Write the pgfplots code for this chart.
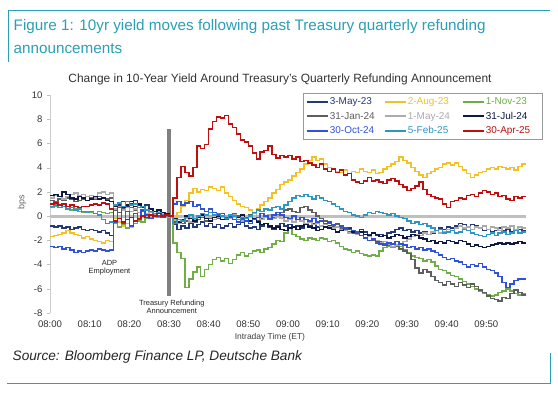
\documentclass[border=0pt]{standalone}
\usepackage{fontspec}
\setmainfont{Liberation Sans}
\usepackage{pgfplots}
\pgfplotsset{compat=1.18}
\definecolor{tealf}{HTML}{2B9FB6}
\definecolor{cA}{HTML}{223A78}
\definecolor{cB}{HTML}{F2C124}
\definecolor{cC}{HTML}{70AD47}
\definecolor{cD}{HTML}{5E5E5E}
\definecolor{cE}{HTML}{ABABAB}
\definecolor{cF}{HTML}{0E1840}
\definecolor{cG}{HTML}{3052DA}
\definecolor{cH}{HTML}{2E96C2}
\definecolor{cI}{HTML}{BE1010}
\begin{document}
\begin{tikzpicture}[x=1bp,y=1bp]
\path[use as bounding box] (0,0) rectangle (558,393);
\fill[white] (0,0) rectangle (558,393);
\draw[tealf, line width=0.9bp] (8,331) -- (8,383) -- (550,383);
\node[anchor=base west, text=tealf, font=\fontsize{15.3}{18}\selectfont, inner sep=0] at (13.5,363) {Figure 1: 10yr yield moves following past Treasury quarterly refunding};
\node[anchor=base west, text=tealf, font=\fontsize{15.3}{18}\selectfont, inner sep=0] at (13.5,340) {announcements};
\node[anchor=base, text=black!80, font=\fontsize{12}{14}\selectfont, inner sep=0] at (280,311) {Change in 10-Year Yield Around Treasury's Quarterly Refunding Announcement};
\draw[tealf, line width=0.9bp] (7,10) -- (550,10) -- (550,40);
\node[anchor=west, text=black!85, font=\fontsize{13.7}{16}\selectfont\itshape, inner sep=0] at (12.5,36) {Source: Bloomberg Finance LP, Deutsche Bank};
\begin{axis}[
  at={(50bp,80bp)}, anchor=south west, scale only axis,
  width=476bp, height=218bp,
  xmin=0, xmax=120, ymin=-8, ymax=10,
  xtick={0,10,...,110},
  xticklabels={08:00,08:10,08:20,08:30,08:40,08:50,09:00,09:10,09:20,09:30,09:40,09:50},
  ytick={-8,-6,...,10},
  axis y line*=left, axis x line*=bottom,
  x axis line style={draw=none},
  y axis line style={draw=black!20, line width=0.8bp, -},
  tick align=outside, major tick length=3bp,
  xtick style={draw=none}, ytick style={draw=black!25},
  tick label style={font=\fontsize{9.6}{11}\selectfont, text=black!80},
  xticklabel style={yshift=-1bp},
  yticklabel style={xshift=-1bp},
  /pgf/number format/assume math mode=true,
  xlabel={Intraday Time (ET)}, ylabel={bps},
  xlabel style={font=\fontsize{8.5}{10}\selectfont, text=black!75, at={(axis description cs:0.462,-0.11)}, anchor=center},
  ylabel style={font=\fontsize{9}{11}\selectfont, text=black!60, at={(axis description cs:-0.0588,0.509)}, anchor=center},
  every axis plot/.append style={const plot, line width=1.5bp},
  legend columns=3,
  legend cell align=left,
  legend image code/.code={\draw[#1, line width=2bp] (0bp,0bp) -- (21bp,0bp);},
  legend style={at={(axis description cs:1.034,1.009)}, anchor=north east, draw=black!40, line width=0.6bp,
    font=\fontsize{10}{12}\selectfont, inner xsep=3bp, inner ysep=1.5bp,
    nodes={inner xsep=1bp, inner ysep=2.6bp, text height=7.2bp, text depth=2bp},
    /tikz/every even column/.append style={column sep=1bp}},
]
\addplot[forget plot, draw=black!25, line width=3bp, sharp plot] coordinates {(0,0)(120,0)};
\addplot[forget plot, draw=black!50, line width=4bp, sharp plot] coordinates {(30,-6.6)(30,7.2)};

\addplot[cA] coordinates {(0,-0.8)(1,-0.9)(2,-0.8)(3,-1.0)(4,-0.9)(5,-1.1)(6,-1.0)(7,-0.9)(8,-1.1)(9,-1.2)(10,-1.1)(11,-1.2)(12,-1.3)(13,-1.2)(14,-1.4)(15,-1.6)
(16,0.6)(17,0.9)(18,1.2)(19,0.8)(20,1.0)(21,1.3)(22,0.9)(23,0.7)(24,0.9)(25,0.6)(26,0.4)(27,0.5)(28,0.3)(29,0.2)(30,0.0)
(31,-0.7)(32,-1.1)(33,-0.8)(34,-1.0)(35,-0.6)(36,-0.9)(37,-0.7)(38,-0.5)(39,-0.8)(40,-0.6)(41,-0.9)(42,-0.7)(43,-1.0)(44,-0.8)(45,-0.6)(46,-0.9)(47,-0.7)(48,-0.5)(49,-0.8)(50,-1.0)(51,-0.9)(52,-1.1)(53,-0.8)(54,-0.6)(55,-0.9)(56,-1.1)(57,-0.8)(58,-0.6)(59,-0.8)(60,-0.7)
(61,-0.9)(62,-0.8)(63,-1.0)(64,-0.7)(65,-0.8)(66,-0.6)(67,-0.9)(68,-1.1)(69,-0.9)(70,-0.8)(71,-0.7)(72,-0.9)(73,-1.1)(74,-1.2)(75,-1.0)(76,-1.2)(77,-1.3)(78,-1.1)(79,-1.3)(80,-1.5)(81,-1.4)(82,-1.6)(83,-1.5)(84,-1.6)(85,-1.4)(86,-1.3)(87,-1.1)(88,-1.0)(89,-1.2)(90,-1.1)
(91,-1.3)(92,-1.2)(93,-1.4)(94,-1.3)(95,-1.5)(96,-1.4)(97,-1.2)(98,-1.0)(99,-1.1)(100,-0.9)(101,-1.0)(102,-0.8)(103,-0.6)(104,-0.7)(105,-0.9)(106,-0.7)(107,-0.8)(108,-1.0)(109,-1.2)(110,-1.1)(111,-1.3)(112,-1.2)(113,-1.0)(114,-1.2)(115,-1.1)(116,-1.3)(117,-1.2)(118,-1.1)(119,-1.2)(120,-1.2)};
\addlegendentry{\makebox[52bp][l]{\textcolor{cA}{3-May-23}}}

\addplot[cB] coordinates {(0,-1.7)(1,-1.6)(2,-1.5)(3,-1.4)(4,-1.2)(5,-1.4)(6,-1.5)(7,-1.6)(8,-1.8)(9,-1.7)(10,-1.9)(11,-2.0)(12,-2.1)(13,-2.2)(14,-2.0)(15,-2.1)
(16,-0.2)(17,-0.5)(18,-0.8)(19,-0.6)(20,-0.9)(21,-0.4)(22,-0.3)(23,-0.1)(24,0.2)(25,0.3)(26,0.1)(27,0.4)(28,0.2)(29,0.1)(30,0.0)
(31,-0.4)(32,0.3)(33,0.8)(34,1.3)(35,1.9)(36,2.3)(37,2.0)(38,2.2)(39,2.1)(40,2.4)(41,2.3)(42,2.1)(43,2.4)(44,1.9)(45,1.6)(46,1.3)(47,1.0)(48,0.8)(49,0.7)(50,0.5)(51,0.3)(52,0.6)(53,0.9)(54,1.2)(55,1.5)(56,1.9)(57,2.2)(58,2.6)(59,2.8)(60,3.0)
(61,3.3)(62,3.6)(63,3.9)(64,4.3)(65,4.6)(66,4.9)(67,4.6)(68,4.7)(69,4.3)(70,4.0)(71,3.9)(72,3.7)(73,3.6)(74,3.8)(75,3.5)(76,3.7)(77,3.6)(78,3.9)(79,3.7)(80,3.6)(81,3.8)(82,3.5)(83,3.6)(84,3.9)(85,4.1)(86,4.3)(87,4.5)(88,4.9)(89,4.6)(90,4.4)
(91,4.0)(92,3.7)(93,3.4)(94,3.2)(95,3.5)(96,3.7)(97,3.9)(98,4.0)(99,4.3)(100,4.4)(101,4.2)(102,4.4)(103,4.1)(104,3.8)(105,3.5)(106,3.2)(107,3.4)(108,3.6)(109,3.7)(110,3.9)(111,4.0)(112,3.9)(113,4.1)(114,4.0)(115,3.9)(116,4.0)(117,3.8)(118,4.1)(119,4.3)(120,4.3)};
\addlegendentry{\makebox[52bp][l]{\textcolor{cB}{2-Aug-23}}}

\addplot[cC] coordinates {(0,0.7)(1,0.8)(2,0.7)(3,0.8)(4,0.6)(5,0.5)(6,0.6)(7,0.4)(8,0.3)(9,0.4)(10,0.3)(11,0.2)(12,0.4)(13,0.3)(14,0.2)(15,0.3)
(16,-0.6)(17,-0.9)(18,-0.7)(19,-1.0)(20,-0.8)(21,-0.6)(22,-0.4)(23,-0.5)(24,-0.2)(25,-0.1)(26,0.1)(27,-0.1)(28,0.0)(29,0.1)(30,0.0)
(31,-2.2)(32,-3.0)(33,-3.5)(34,-5.9)(35,-5.2)(36,-4.6)(37,-4.2)(38,-5.0)(39,-4.4)(40,-4.0)(41,-3.6)(42,-3.4)(43,-3.7)(44,-3.5)(45,-3.9)(46,-3.6)(47,-3.2)(48,-3.0)(49,-3.3)(50,-3.1)(51,-2.9)(52,-2.8)(53,-3.0)(54,-2.7)(55,-2.6)(56,-2.3)(57,-2.0)(58,-2.1)(59,-1.4)(60,-1.0)
(61,-1.5)(62,-1.7)(63,-1.9)(64,-2.0)(65,-1.8)(66,-1.9)(67,-2.0)(68,-1.8)(69,-1.9)(70,-2.1)(71,-2.0)(72,-2.2)(73,-2.5)(74,-2.7)(75,-2.8)(76,-3.0)(77,-2.9)(78,-3.1)(79,-3.2)(80,-3.3)(81,-3.2)(82,-3.3)(83,-2.9)(84,-2.6)(85,-2.5)(86,-2.6)(87,-2.4)(88,-2.5)(89,-2.8)(90,-3.0)
(91,-3.3)(92,-3.4)(93,-3.5)(94,-3.7)(95,-3.6)(96,-3.8)(97,-4.1)(98,-4.4)(99,-4.5)(100,-4.7)(101,-4.9)(102,-5.0)(103,-5.2)(104,-5.4)(105,-5.6)(106,-5.8)(107,-6.0)(108,-6.2)(109,-6.4)(110,-6.5)(111,-6.6)(112,-6.5)(113,-6.3)(114,-6.2)(115,-6.0)(116,-6.2)(117,-6.4)(118,-6.5)(119,-6.4)(120,-6.4)};
\addlegendentry{\makebox[52bp][l]{\textcolor{cC}{1-Nov-23}}}

\addplot[cD] coordinates {(0,1.3)(1,1.2)(2,1.4)(3,1.3)(4,1.5)(5,1.4)(6,1.2)(7,1.3)(8,1.4)(9,1.3)(10,1.5)(11,1.4)(12,1.6)(13,1.5)(14,1.4)(15,1.5)
(16,0.5)(17,0.3)(18,0.6)(19,0.4)(20,0.7)(21,0.5)(22,0.3)(23,0.4)(24,0.2)(25,0.3)(26,0.1)(27,0.2)(28,0.0)(29,0.1)(30,0.0)
(31,-0.5)(32,-0.3)(33,-0.6)(34,-0.4)(35,-0.2)(36,-0.5)(37,-0.3)(38,-0.1)(39,-0.4)(40,-0.2)(41,0.1)(42,-0.2)(43,0.0)(44,-0.3)(45,-0.1)(46,0.2)(47,0.0)(48,-0.3)(49,-0.1)(50,0.1)(51,-0.2)(52,-0.4)(53,-0.2)(54,0.0)(55,-0.3)(56,-0.1)(57,0.1)(58,0.3)(59,0.5)(60,0.6)
(61,0.4)(62,0.3)(63,0.7)(64,0.8)(65,0.5)(66,0.3)(67,0.0)(68,-0.2)(69,-0.4)(70,-0.6)(71,-0.8)(72,-0.7)(73,-1.0)(74,-1.1)(75,-1.3)(76,-1.4)(77,-1.3)(78,-1.6)(79,-1.8)(80,-1.7)(81,-2.0)(82,-2.2)(83,-2.1)(84,-2.3)(85,-2.4)(86,-2.3)(87,-2.5)(88,-2.7)(89,-2.9)(90,-3.1)
(91,-3.6)(92,-4.3)(93,-4.7)(94,-4.4)(95,-4.6)(96,-5.0)(97,-5.3)(98,-5.5)(99,-5.7)(100,-5.4)(101,-5.6)(102,-5.8)(103,-5.5)(104,-5.7)(105,-5.9)(106,-5.6)(107,-5.8)(108,-6.1)(109,-6.3)(110,-6.6)(111,-6.8)(112,-6.9)(113,-7.0)(114,-6.7)(115,-6.8)(116,-6.4)(117,-6.1)(118,-6.3)(119,-6.5)(120,-6.5)};
\addlegendentry{\makebox[52bp][l]{\textcolor{cD}{31-Jan-24}}}

\addplot[cE] coordinates {(0,1.5)(1,1.7)(2,1.6)(3,1.4)(4,1.6)(5,1.8)(6,1.9)(7,1.7)(8,1.8)(9,1.6)(10,1.7)(11,1.5)(12,1.9)(13,2.0)(14,1.8)(15,1.9)
(16,0.6)(17,0.8)(18,0.5)(19,0.7)(20,0.4)(21,0.6)(22,0.3)(23,0.5)(24,0.2)(25,0.3)(26,0.1)(27,0.2)(28,0.0)(29,-0.1)(30,0.0)
(31,-0.3)(32,-0.6)(33,-0.4)(34,-0.2)(35,-0.5)(36,-0.3)(37,-0.1)(38,0.1)(39,-0.2)(40,0.0)(41,-0.3)(42,-0.1)(43,0.2)(44,0.0)(45,-0.2)(46,0.1)(47,-0.1)(48,-0.4)(49,-0.2)(50,0.0)(51,0.2)(52,-0.1)(53,-0.3)(54,-0.1)(55,0.1)(56,-0.2)(57,0.0)(58,-0.2)(59,-0.4)(60,-0.3)
(61,-0.5)(62,-0.3)(63,-0.4)(64,-0.6)(65,-0.5)(66,-0.7)(67,-0.6)(68,-0.8)(69,-0.7)(70,-0.9)(71,-1.0)(72,-0.9)(73,-1.1)(74,-1.2)(75,-1.4)(76,-1.3)(77,-1.5)(78,-1.6)(79,-1.5)(80,-1.7)(81,-1.9)(82,-2.0)(83,-2.2)(84,-2.1)(85,-2.3)(86,-2.5)(87,-2.4)(88,-2.3)(89,-2.1)(90,-1.9)
(91,-1.7)(92,-1.5)(93,-1.6)(94,-1.4)(95,-1.5)(96,-1.3)(97,-1.2)(98,-1.4)(99,-1.3)(100,-1.1)(101,-1.2)(102,-1.0)(103,-0.8)(104,-1.0)(105,-0.9)(106,-1.1)(107,-0.9)(108,-1.0)(109,-0.8)(110,-1.1)(111,-0.9)(112,-1.0)(113,-1.2)(114,-0.9)(115,-1.0)(116,-0.8)(117,-1.1)(118,-0.9)(119,-1.0)(120,-1.0)};
\addlegendentry{\makebox[52bp][l]{\textcolor{cE}{1-May-24}}}

\addplot[cF] coordinates {(0,1.7)(1,1.8)(2,1.6)(3,2.0)(4,1.8)(5,1.5)(6,1.4)(7,1.6)(8,1.5)(9,1.3)(10,1.4)(11,1.6)(12,1.4)(13,1.5)(14,1.3)(15,1.2)
(16,0.8)(17,1.1)(18,0.7)(19,0.9)(20,1.2)(21,0.8)(22,1.0)(23,0.7)(24,0.5)(25,0.6)(26,0.4)(27,0.5)(28,0.3)(29,0.2)(30,0.0)
(31,-0.2)(32,-0.5)(33,-0.3)(34,0.0)(35,-0.2)(36,-0.4)(37,-0.1)(38,0.1)(39,-0.2)(40,-0.4)(41,-0.1)(42,0.0)(43,-0.3)(44,-0.2)(45,0.0)(46,-0.3)(47,-0.1)(48,0.1)(49,-0.2)(50,-0.4)(51,-0.2)(52,-0.5)(53,-0.7)(54,-0.6)(55,-0.8)(56,-1.0)(57,-0.9)(58,-1.1)(59,-1.2)(60,-1.0)
(61,-0.9)(62,-1.1)(63,-0.8)(64,-0.7)(65,-0.9)(66,-1.0)(67,-1.2)(68,-1.1)(69,-0.9)(70,-1.0)(71,-1.1)(72,-1.3)(73,-1.2)(74,-1.0)(75,-1.1)(76,-1.3)(77,-1.4)(78,-1.3)(79,-1.5)(80,-1.6)(81,-1.4)(82,-1.5)(83,-1.7)(84,-1.6)(85,-1.8)(86,-1.7)(87,-1.5)(88,-1.6)(89,-1.8)(90,-1.7)
(91,-1.5)(92,-1.6)(93,-1.8)(94,-1.9)(95,-2.1)(96,-2.0)(97,-2.2)(98,-2.1)(99,-2.2)(100,-2.0)(101,-2.1)(102,-2.2)(103,-2.0)(104,-2.1)(105,-2.3)(106,-2.5)(107,-2.4)(108,-2.5)(109,-2.6)(110,-2.5)(111,-2.4)(112,-2.3)(113,-2.2)(114,-2.3)(115,-2.2)(116,-2.3)(117,-2.2)(118,-2.1)(119,-2.2)(120,-2.2)};
\addlegendentry{\makebox[52bp][l]{\textcolor{cF}{31-Jul-24}}}

\addplot[cG] coordinates {(0,-2.5)(1,-2.6)(2,-2.5)(3,-2.7)(4,-2.6)(5,-2.8)(6,-3.0)(7,-2.9)(8,-3.0)(9,-2.9)(10,-2.8)(11,-2.9)(12,-2.7)(13,-2.8)(14,-2.9)(15,-2.8)
(16,-0.5)(17,0.7)(18,-0.6)(19,0.4)(20,-0.8)(21,0.2)(22,-0.3)(23,0.5)(24,0.1)(25,-0.2)(26,0.2)(27,0.0)(28,-0.1)(29,0.1)(30,0.0)
(31,1.0)(32,1.2)(33,0.9)(34,1.1)(35,1.2)(36,0.8)(37,0.9)(38,0.6)(39,0.4)(40,0.6)(41,0.3)(42,0.1)(43,0.2)(44,-0.1)(45,0.0)(46,-0.3)(47,-0.5)(48,-0.2)(49,-0.4)(50,-0.6)(51,-0.3)(52,-0.1)(53,0.2)(54,0.0)(55,-0.2)(56,0.1)(57,0.3)(58,0.1)(59,-0.1)(60,-0.2)
(61,0.0)(62,-0.3)(63,-0.1)(64,-0.3)(65,-0.4)(66,-0.2)(67,-0.5)(68,-0.4)(69,-0.6)(70,-0.5)(71,-0.7)(72,-0.6)(73,-0.8)(74,-1.0)(75,-1.1)(76,-1.2)(77,-1.4)(78,-1.6)(79,-1.8)(80,-2.0)(81,-1.9)(82,-2.1)(83,-2.3)(84,-2.4)(85,-2.2)(86,-2.3)(87,-2.1)(88,-2.3)(89,-2.4)(90,-2.6)
(91,-2.5)(92,-2.7)(93,-2.6)(94,-2.8)(95,-2.7)(96,-2.9)(97,-3.0)(98,-3.2)(99,-3.4)(100,-3.6)(101,-3.5)(102,-3.7)(103,-3.8)(104,-4.0)(105,-4.2)(106,-4.0)(107,-4.1)(108,-3.9)(109,-4.2)(110,-4.4)(111,-4.5)(112,-4.7)(113,-5.0)(114,-5.5)(115,-5.9)(116,-5.6)(117,-5.3)(118,-5.2)(119,-5.2)(120,-5.2)};
\addlegendentry{\makebox[52bp][l]{\textcolor{cG}{30-Oct-24}}}

\addplot[cH] coordinates {(0,0.8)(1,0.9)(2,0.7)(3,0.8)(4,0.6)(5,0.7)(6,0.5)(7,0.6)(8,0.4)(9,0.3)(10,0.4)(11,0.2)(12,0.1)(13,-0.3)(14,-0.6)(15,-0.5)
(16,0.9)(17,1.1)(18,0.8)(19,1.2)(20,0.9)(21,1.0)(22,0.7)(23,0.8)(24,0.5)(25,0.4)(26,0.2)(27,0.3)(28,0.1)(29,0.0)(30,0.0)
(31,-0.6)(32,-0.3)(33,-0.4)(34,-0.1)(35,0.1)(36,-0.2)(37,0.0)(38,0.2)(39,0.1)(40,0.3)(41,0.1)(42,0.2)(43,0.0)(44,-0.2)(45,0.1)(46,0.0)(47,-0.3)(48,-0.1)(49,-0.2)(50,0.0)(51,0.3)(52,0.5)(53,0.4)(54,0.6)(55,0.5)(56,0.7)(57,0.8)(58,0.6)(59,0.9)(60,1.2)
(61,1.5)(62,1.7)(63,1.6)(64,1.8)(65,1.6)(66,1.4)(67,1.7)(68,1.5)(69,1.3)(70,1.2)(71,1.0)(72,0.8)(73,0.6)(74,0.4)(75,0.3)(76,0.1)(77,0.0)(78,-0.1)(79,0.1)(80,0.3)(81,0.2)(82,0.4)(83,0.3)(84,0.2)(85,0.1)(86,0.2)(87,0.0)(88,-0.1)(89,-0.2)(90,-0.4)
(91,-0.6)(92,-0.5)(93,-0.7)(94,-0.6)(95,-0.8)(96,-1.0)(97,-1.2)(98,-1.1)(99,-1.4)(100,-1.3)(101,-1.2)(102,-1.4)(103,-1.3)(104,-1.1)(105,-1.2)(106,-1.4)(107,-1.5)(108,-1.6)(109,-1.7)(110,-1.5)(111,-1.4)(112,-1.6)(113,-1.4)(114,-1.3)(115,-1.5)(116,-1.4)(117,-1.2)(118,-1.4)(119,-1.3)(120,-1.3)};
\addlegendentry{\makebox[52bp][l]{\textcolor{cH}{5-Feb-25}}}

\addplot[cI] coordinates {(0,1.0)(1,1.1)(2,0.9)(3,1.0)(4,0.8)(5,0.9)(6,0.8)(7,0.7)(8,0.8)(9,0.8)(10,0.9)(11,1.0)(12,0.9)(13,1.1)(14,1.0)(15,0.6)
(16,-0.4)(17,-0.2)(18,-0.5)(19,-0.3)(20,-0.1)(21,-0.4)(22,-0.2)(23,0.0)(24,-0.1)(25,0.1)(26,0.0)(27,0.2)(28,0.0)(29,0.1)(30,0.0)
(31,1.5)(32,3.2)(33,4.1)(34,3.6)(35,3.3)(36,4.0)(37,5.8)(38,5.6)(39,5.9)(40,7.2)(41,7.8)(42,8.2)(43,8.1)(44,8.3)(45,7.6)(46,7.3)(47,6.8)(48,6.3)(49,6.1)(50,5.8)(51,5.2)(52,4.7)(53,5.3)(54,5.4)(55,5.8)(56,5.1)(57,4.8)(58,5.0)(59,4.9)(60,5.0)
(61,4.7)(62,4.9)(63,4.5)(64,4.6)(65,4.4)(66,4.2)(67,4.0)(68,4.3)(69,3.9)(70,3.7)(71,3.9)(72,3.6)(73,3.8)(74,3.4)(75,3.5)(76,3.0)(77,2.8)(78,2.7)(79,2.9)(80,3.2)(81,2.9)(82,3.0)(83,2.8)(84,2.7)(85,3.0)(86,3.1)(87,2.9)(88,2.6)(89,2.4)(90,2.1)
(91,2.3)(92,2.5)(93,2.8)(94,2.2)(95,1.8)(96,1.6)(97,1.5)(98,1.4)(99,1.0)(100,0.7)(101,1.2)(102,1.3)(103,1.5)(104,1.4)(105,1.7)(106,1.8)(107,1.6)(108,1.9)(109,2.1)(110,2.0)(111,1.8)(112,1.9)(113,1.6)(114,1.7)(115,1.4)(116,1.3)(117,1.6)(118,1.5)(119,1.6)(120,1.6)};
\addlegendentry{\makebox[52bp][l]{\textcolor{cI}{30-Apr-25}}}

\node[align=center, font=\fontsize{7.5}{8.5}\selectfont, text=black!85, inner sep=0] at (axis cs:15,-4.25) {ADP\\Employment};
\node[align=center, font=\fontsize{7.5}{8.3}\selectfont, text=black!85, inner sep=0] at (axis cs:30.7,-7.5) {Treasury Refunding\\Announcement};
\end{axis}
\end{tikzpicture}
\end{document}
